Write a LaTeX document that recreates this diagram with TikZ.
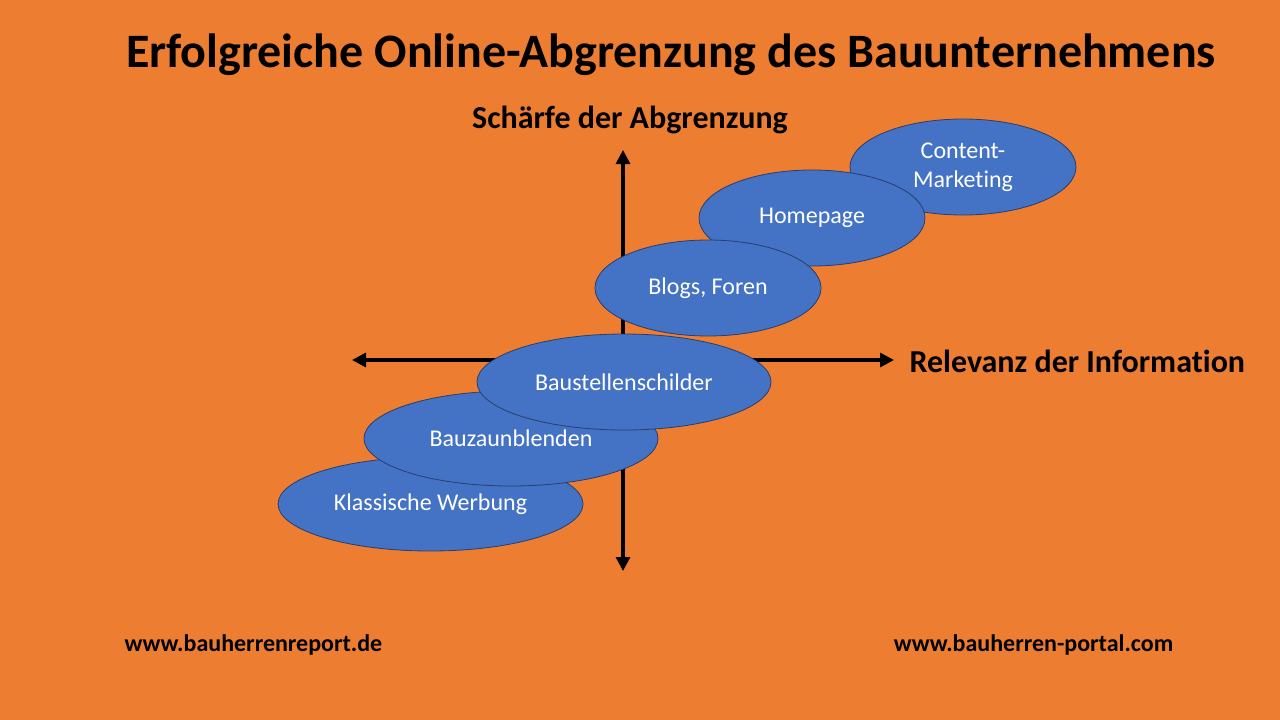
\documentclass[tikz,border=0pt]{standalone}
\usepackage{fontspec}
\setmainfont{Carlito}[Ligatures=NoCommon]
\usepackage{tikz}
\usetikzlibrary{arrows.meta,shapes.geometric}
\definecolor{bg}{RGB}{237,125,49}
\definecolor{blu}{RGB}{68,114,196}
\definecolor{blued}{RGB}{40,62,110}
\tikzset{
  el/.style   ={ellipse,draw=blued,line width=0.8pt,fill=blu,inner sep=0pt,text=white,
                align=center,font=\fontsize{24}{29}\selectfont},
  wide/.style ={minimum width=294pt,minimum height=95pt},
  small/.style={minimum width=226pt,minimum height=96pt},
  ttl/.style  ={font=\bfseries\fontsize{48}{54}\selectfont},
  axl/.style  ={font=\bfseries\fontsize{32}{36}\selectfont},
  url/.style  ={font=\bfseries\fontsize{24}{28}\selectfont},
  ax/.style   ={{Triangle[length=14pt,width=14pt]}-{Triangle[length=14pt,width=14pt]},line width=3.2pt},
}
\begin{document}
\begin{tikzpicture}[x=1pt,y=-1pt]
  \fill[bg] (0,0) rectangle (1280,720);
  \useasboundingbox (0,0) rectangle (1280,720);
  \node[ttl] (title) at (671,55){Erfolgreiche Online-Abgrenzung des Bauunternehmens};
  % axes
  \coordinate (top) at (623,150);
  \coordinate (bot) at (623,571);
  \coordinate (lft) at (352,360);
  \coordinate (rgt) at (894,360);
  \draw[ax] (top) -- (bot);
  \draw[ax] (lft) -- (rgt);
  \node[axl] (ylab) at (630,120){Schärfe der Abgrenzung};
  \node[axl,anchor=west] (xlab) at (906,361){Relevanz der Information};
  % ellipses
  \node[el,wide,minimum width=305pt,minimum height=94pt] (klass) at (430.5,504){Klassische Werbung};
  \node[el,wide] (zaun) at (511,438.5){Bauzaunblenden};
  \node[el,small] (cont) at (963,167){Content-\\Marketing};
  \node[el,small] (home) at (812,218){Homepage};
  \node[el,small] (blog) at (708,288){Blogs, Foren};
  \node[el,wide,minimum height=96pt] (schild) at (624,382){Baustellenschilder};
  % footer
  \node[url] (urlA) at (253.5,645){www.bauherrenreport.de};
  \node[url] (urlB) at (1033.5,645){www.bauherren-portal.com};
\end{tikzpicture}
\end{document}
